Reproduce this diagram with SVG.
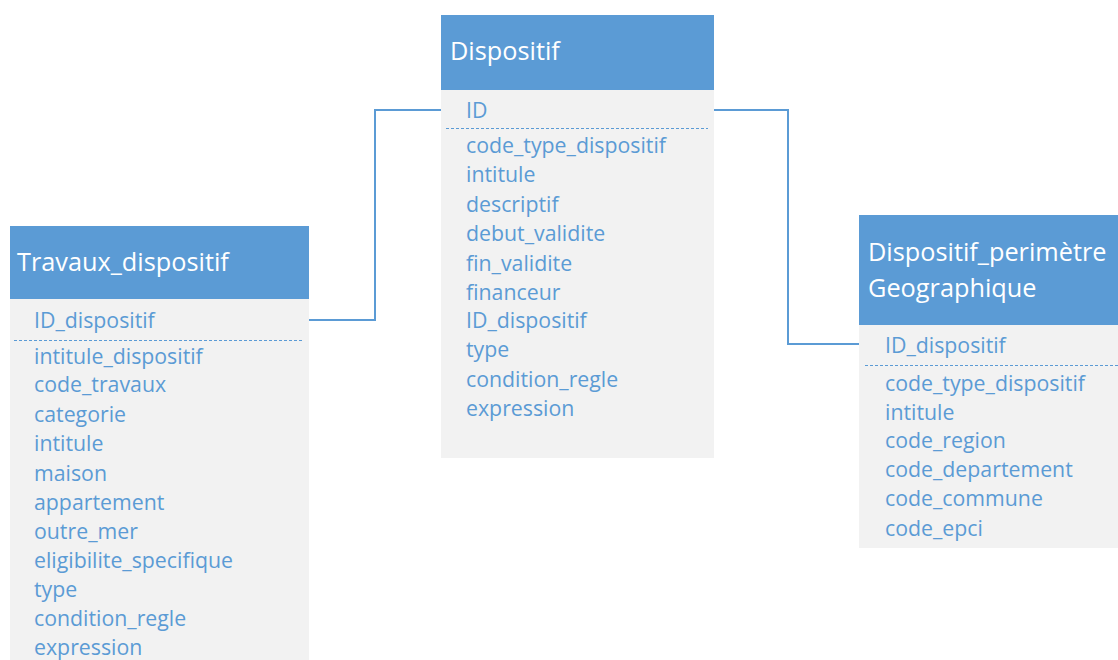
<svg xmlns="http://www.w3.org/2000/svg" width="1118" height="660" viewBox="0 0 1118 660">
<style>
.hdr{fill:#5B9BD5}
.body{fill:#F2F2F2}
.title{font-family:"Open Sans","Noto Sans",sans-serif;font-size:25.3px;fill:#FFFFFF}
.fld{font-family:"Open Sans","Noto Sans",sans-serif;font-size:21.3px;font-weight:500;fill:#5B9BD5}
.dash{stroke:#5B9BD5;stroke-width:1;stroke-dasharray:3,2;fill:none}
.conn{stroke:#5B9BD5;stroke-width:2;fill:none}
</style>
<rect width="1118" height="660" fill="#FFFFFF"/>
<g id="connectors">
<polyline class="conn" points="309,320 375,320 375,110 441,110"/>
<polyline class="conn" points="714,110 788,110 788,344 859,344"/>
</g>
<g id="dispositif">
<rect class="body" x="441" y="90" width="273" height="368"/>
<rect class="hdr" x="441" y="15" width="273" height="75"/>
<text class="title" x="450" y="60">Dispositif</text>
<text class="fld" x="466" y="118">ID</text>
<line class="dash" x1="446" y1="128.5" x2="708" y2="128.5"/>
<text class="fld" x="466" y="153">code_type_dispositif</text>
<text class="fld" x="466" y="182">intitule</text>
<text class="fld" x="466" y="212">descriptif</text>
<text class="fld" x="466" y="241">debut_validite</text>
<text class="fld" x="466" y="271">fin_validite</text>
<text class="fld" x="466" y="300">financeur</text>
<text class="fld" x="466" y="328">ID_dispositif</text>
<text class="fld" x="466" y="357">type</text>
<text class="fld" x="466" y="387">condition_regle</text>
<text class="fld" x="466" y="416">expression</text>
</g>
<g id="travaux_dispositif">
<rect class="body" x="10" y="299" width="299" height="361"/>
<rect class="hdr" x="10" y="226" width="299" height="73"/>
<text class="title" x="17" y="271">Travaux_dispositif</text>
<text class="fld" x="34" y="328">ID_dispositif</text>
<line class="dash" x1="14" y1="340.5" x2="302" y2="340.5"/>
<text class="fld" x="34" y="364">intitule_dispositif</text>
<text class="fld" x="34" y="392">code_travaux</text>
<text class="fld" x="34" y="422">categorie</text>
<text class="fld" x="34" y="451">intitule</text>
<text class="fld" x="34" y="481">maison</text>
<text class="fld" x="34" y="510">appartement</text>
<text class="fld" x="34" y="539">outre_mer</text>
<text class="fld" x="34" y="568">eligibilite_specifique</text>
<text class="fld" x="34" y="597">type</text>
<text class="fld" x="34" y="626">condition_regle</text>
<text class="fld" x="34" y="655">expression</text>
</g>
<g id="dispositif_perimetre">
<rect class="body" x="859" y="325" width="259" height="223"/>
<rect class="hdr" x="859" y="215" width="259" height="110"/>
<text class="title" x="868" y="261">Dispositif_perimètre</text>
<text class="title" x="868" y="297">Geographique</text>
<text class="fld" x="885" y="353">ID_dispositif</text>
<line class="dash" x1="865" y1="365.5" x2="1118" y2="365.5"/>
<text class="fld" x="885" y="391">code_type_dispositif</text>
<text class="fld" x="885" y="420">intitule</text>
<text class="fld" x="885" y="448">code_region</text>
<text class="fld" x="885" y="477">code_departement</text>
<text class="fld" x="885" y="506">code_commune</text>
<text class="fld" x="885" y="536">code_epci</text>
</g>
</svg>
